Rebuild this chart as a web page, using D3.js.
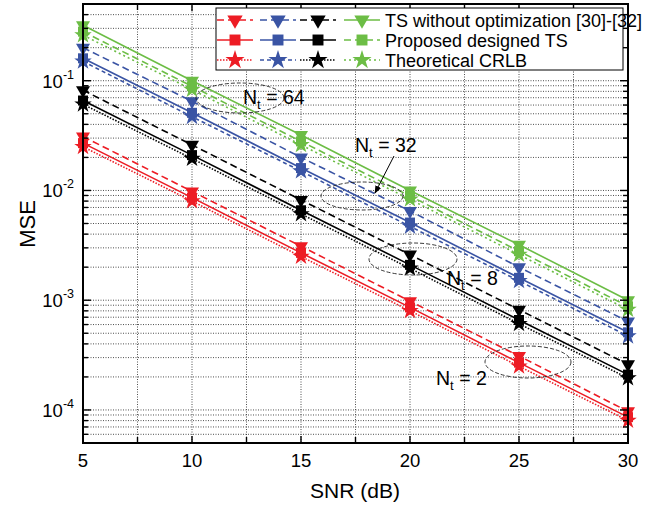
<!DOCTYPE html>
<html>
<head>
<meta charset="utf-8">
<script src="https://d3js.org/d3.v7.min.js"></script>
<style>
  body { margin: 0; background: #fff; }
  text { font-family: "Liberation Sans", Arial, sans-serif; fill: #000; }
</style>
</head>
<body>
<svg id="chart" width="657" height="508"></svg>
<script>
// SNR points (dB)
const snr = [5, 10, 15, 20, 25, 30];
const xTicks = [5, 10, 15, 20, 25, 30];
const yDecades = [-1, -2, -3, -4];

// Nt = 2 (red)
const tsNt2   = [3.1e-2, 9.8e-3, 3.1e-3, 9.8e-4, 3.1e-4, 9.7e-5];
const propNt2 = [2.7e-2, 8.6e-3, 2.7e-3, 8.6e-4, 2.7e-4, 8.6e-5];
const crlbNt2 = [2.5e-2, 8.0e-3, 2.5e-3, 8.0e-4, 2.5e-4, 8.0e-5];
// Nt = 8 (black)
const tsNt8   = [8.2e-2, 2.6e-2, 8.2e-3, 2.6e-3, 8.2e-4, 2.6e-4];
const propNt8 = [6.6e-2, 2.1e-2, 6.6e-3, 2.1e-3, 6.6e-4, 2.1e-4];
const crlbNt8 = [6.1e-2, 1.95e-2, 6.1e-3, 1.95e-3, 6.1e-4, 1.95e-4];
// Nt = 32 (blue)
const tsNt32   = [0.20, 6.5e-2, 2.0e-2, 6.5e-3, 2.0e-3, 6.4e-4];
const propNt32 = [0.16, 5.1e-2, 1.6e-2, 5.1e-3, 1.6e-3, 5.1e-4];
const crlbNt32 = [0.15, 4.7e-2, 1.5e-2, 4.7e-3, 1.5e-3, 4.7e-4];
// Nt = 64 (green)
const tsNt64   = [0.32, 0.10, 3.2e-2, 1.0e-2, 3.2e-3, 1.0e-3];
const propNt64 = [0.28, 8.9e-2, 2.8e-2, 8.9e-3, 2.8e-3, 8.8e-4];
const crlbNt64 = [0.26, 8.3e-2, 2.6e-2, 8.3e-3, 2.6e-3, 8.2e-4];

const legendLabels = ["TS without optimization [30]-[32]", "Proposed designed TS", "Theoretical CRLB"];

const red = "#ed1c24", blue = "#3a54a4", black = "#000", green = "#6cbd45";

// rows: ts, prop, crlb ; columns: red, blue, black, green (legend order)
const series = [
  {color: red,   vals: tsNt2,    dash: "7,4",   sym: "tri"},
  {color: blue,  vals: tsNt32,   dash: "7,4",   sym: "tri"},
  {color: black, vals: tsNt8,    dash: "7,4",   sym: "tri"},
  {color: green, vals: tsNt64,   dash: null,    sym: "tri"},
  {color: red,   vals: propNt2,  dash: null,    sym: "sq"},
  {color: blue,  vals: propNt32, dash: null,    sym: "sq"},
  {color: black, vals: propNt8,  dash: null,    sym: "sq"},
  {color: green, vals: propNt64, dash: "7,4",   sym: "sq"},
  {color: red,   vals: crlbNt2,  dash: "1.5,1.5", sym: "star"},
  {color: blue,  vals: crlbNt32, dash: "4,3",   sym: "star"},
  {color: black, vals: crlbNt8,  dash: "1.5,1.5", sym: "star"},
  {color: green, vals: crlbNt64, dash: "2,3",   sym: "star"}
];

const L = 83, R = 628, T = 4, B = 443;
const svg = d3.select("#chart");
const x = d3.scaleLinear().domain([5, 30]).range([L, R]);
const y = d3.scaleLog().domain([5e-5, 0.5]).range([B, T]);

// grid
const minorY = [];
for (let k = -5; k <= -1; k++) for (let m = 1; m <= 9; m++) {
  const v = m * Math.pow(10, k);
  if (v >= 5e-5 && v <= 0.5) minorY.push(v);
}
const xGrid = d3.range(5, 30.01, 2.5);
const grid = svg.append("g");
grid.selectAll("line.h").data(minorY).enter().append("line")
  .attr("x1", L).attr("x2", R)
  .attr("y1", d => y(d)).attr("y2", d => y(d))
  .attr("stroke", "#222").attr("stroke-width", 0.8).attr("stroke-dasharray", "1,1.5");
grid.selectAll("line.v").data(xGrid.slice(1, -1)).enter().append("line")
  .attr("y1", T).attr("y2", B)
  .attr("x1", d => x(d)).attr("x2", d => x(d))
  .attr("stroke", "#222").attr("stroke-width", 0.8).attr("stroke-dasharray", "1,1.5");

// symbols
function symPath(s, k) {
  k = k || 1;
  if (s === "tri") return d3.symbol(d3.symbolTriangle, 85 * k)();
  if (s === "sq") return d3.symbol(d3.symbolSquare, 100 * k)();
  return d3.symbol(d3.symbolStar, 95 * k)();
}
function symTransform(s, px, py) {
  return s === "tri" ? `translate(${px},${py}) rotate(180)` : `translate(${px},${py})`;
}

const line = d3.line().x((d, i) => x(snr[i])).y(d => y(d));
const plot = svg.append("g");
series.forEach(s => {
  plot.append("path").datum(s.vals)
    .attr("d", line).attr("fill", "none")
    .attr("stroke", s.color).attr("stroke-width", 1.6)
    .attr("stroke-dasharray", s.dash);
});
series.forEach(s => {
  plot.selectAll(null).data(s.vals).enter().append("path")
    .attr("d", symPath(s.sym))
    .attr("transform", (d, i) => symTransform(s.sym, x(snr[i]), y(d)))
    .attr("fill", s.color);
});

// annotations
const ann = svg.append("g").attr("fill", "none").attr("stroke", "#222")
  .attr("stroke-width", 0.9).attr("stroke-dasharray", "4,2");
ann.append("ellipse").attr("cx", 240).attr("cy", 98).attr("rx", 44).attr("ry", 15);
ann.append("ellipse").attr("cx", 362).attr("cy", 196).attr("rx", 41).attr("ry", 14);
ann.append("ellipse").attr("cx", 413).attr("cy", 259).attr("rx", 44).attr("ry", 16);
ann.append("ellipse").attr("cx", 528).attr("cy", 362).attr("rx", 43).attr("ry", 16);

svg.append("defs").append("marker").attr("id", "arr")
  .attr("viewBox", "0 0 10 10").attr("refX", 9).attr("refY", 5)
  .attr("markerWidth", 8).attr("markerHeight", 8).attr("orient", "auto")
  .append("path").attr("d", "M0,1 L10,5 L0,9 Z").attr("fill", "#000");
svg.append("line").attr("x1", 394).attr("y1", 156).attr("x2", 375).attr("y2", 193)
  .attr("stroke", "#000").attr("stroke-width", 1).attr("marker-end", "url(#arr)");

function ntLabel(px, py, num) {
  const t = svg.append("text").attr("x", px).attr("y", py).attr("font-size", 19.5);
  t.append("tspan").text("N");
  t.append("tspan").attr("font-size", 13).attr("dy", 5).text("t");
  t.append("tspan").attr("dy", -5).text(" = " + num);
}
ntLabel(243, 104, "64");
ntLabel(355, 152, "32");
ntLabel(447, 285, "8");
ntLabel(436, 385, "2");

// axes frame
const ax = svg.append("g").attr("stroke", "#000");
ax.append("rect").attr("x", L).attr("y", T).attr("width", R - L).attr("height", B - T)
  .attr("fill", "none").attr("stroke-width", 2);
const majorY = yDecades.map(e => Math.pow(10, e));
minorY.forEach(v => {
  const len = majorY.some(m => Math.abs(m - v) / m < 1e-6) ? 8 : 5;
  ax.append("line").attr("x1", L).attr("x2", L + len).attr("y1", y(v)).attr("y2", y(v)).attr("stroke-width", 1.4);
  ax.append("line").attr("x1", R).attr("x2", R - len).attr("y1", y(v)).attr("y2", y(v)).attr("stroke-width", 1.4);
});
xGrid.forEach(v => {
  const len = xTicks.includes(v) ? 7 : 6;
  ax.append("line").attr("y1", B).attr("y2", B - len).attr("x1", x(v)).attr("x2", x(v)).attr("stroke-width", 1.4);
  ax.append("line").attr("y1", T).attr("y2", T + len).attr("x1", x(v)).attr("x2", x(v)).attr("stroke-width", 1.4);
});

// tick labels
svg.selectAll("text.xt").data(xTicks).enter().append("text")
  .attr("x", d => x(d)).attr("y", 467).attr("text-anchor", "middle")
  .attr("font-size", 18.5).text(d => d);
yDecades.forEach(e => {
  const t = svg.append("text").attr("x", 74).attr("y", y(Math.pow(10, e)) + 7)
    .attr("text-anchor", "end").attr("font-size", 18.5);
  t.append("tspan").text("10");
  t.append("tspan").attr("font-size", 12.5).attr("dy", -9).text(e);
});

svg.append("text").attr("x", 355).attr("y", 498).attr("text-anchor", "middle")
  .attr("font-size", 21).text("SNR (dB)");
svg.append("text").attr("transform", "translate(35,224) rotate(-90)")
  .attr("text-anchor", "middle").attr("font-size", 22).text("MSE");

// legend
const leg = svg.append("g");
leg.append("rect").attr("x", 216).attr("y", 8).attr("width", 407).attr("height", 62)
  .attr("fill", "#fff").attr("stroke", "#000").attr("stroke-width", 1);
const colX = [235, 278, 318, 362];
series.forEach((s, i) => {
  const row = Math.floor(i / 4), col = i % 4;
  const cy = 20 + row * 20, cx = colX[col];
  leg.append("line").attr("x1", cx - 18).attr("x2", cx + 18).attr("y1", cy).attr("y2", cy)
    .attr("stroke", s.color).attr("stroke-width", 1.6).attr("stroke-dasharray", s.dash);
  leg.append("path").attr("d", symPath(s.sym, 1.2)).attr("transform", symTransform(s.sym, cx, cy))
    .attr("fill", s.color);
});
legendLabels.forEach((t, i) => {
  leg.append("text").attr("x", 385).attr("y", 26.5 + i * 20).attr("font-size", 18).text(t);
});
</script>
</body>
</html>
